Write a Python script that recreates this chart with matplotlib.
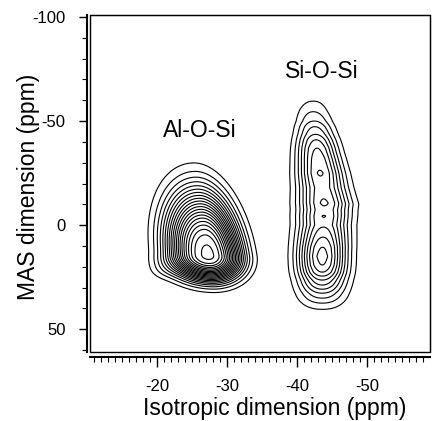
import numpy as np
import matplotlib.pyplot as plt
from matplotlib.patches import Rectangle

plt.rcParams['font.family'] = ['Liberation Sans', 'DejaVu Sans']
plt.rcParams['axes.unicode_minus'] = False

# contour levels (arbitrary intensity units)
level_base = 0.05
level_step = 0.047
n_levels = 21

# Al-O-Si peak (ppm)
# x0, y0, sigma left/right (iso), sigma up/down (MAS), amplitude, shear, shape power
al_x0 = [-27.3, -20.8]
al_y0 = [14.5, 21.0]
al_sl = [4.2, 1.5]
al_sr = [3.5, 1.5]
al_su = [22.3, 4.5]
al_sd = [9.0, 3.5]
al_amp = [1.0, 0.05]
al_shear = [-0.046, 0.0]
al_pow = [2.6, 2.0]

# Si-O-Si ridge: height along the MAS axis, in contour steps
si_ridge_y = [-66, -59.6, -54.5, -50, -47.3, -43.6, -41, -37, -32, -25, -18, -10.6, -7.5,
              -4.3, 0, 5.8, 10.6, 15, 19.2, 22.6, 24.5, 26.4, 28.8, 30.8, 32.7, 35.1,
              37.5, 40.5, 45]
si_ridge_k = [-2, 0, 1, 2, 3, 4, 5, 6, 6.6, 7.1, 6.6, 7.15, 6.8,
              7.03, 6.8, 8.0, 9.0, 9.4, 9.0, 8.0, 7, 6, 5, 4, 3, 2,
              1, 0, -2]
# ridge width and centre along the MAS axis
si_width_y = [-62, -55, -49, -35, -10, 14, 30, 38, 42]
si_width = [1.7, 1.8, 1.85, 2.1, 2.6, 2.46, 2.45, 2.55, 2.4]
si_centre_y = [-55, -35, -10, 14, 40]
si_centre_x = [-42.3, -42.9, -43.9, -43.6, -43.6]
si_pow = 2.2

labels = ['Al-O-Si', 'Si-O-Si']
label_x = [-26.1, -43.6]
label_y = [-45.7, -73.6]


def blob(X, Y, x0, y0, sl, sr, su, sd, amp, shear, pw):
    dx = X - (x0 + shear * (Y - y0))
    dy = Y - y0
    sx = np.where(dx > 0, sl, sr)
    sy = np.where(dy < 0, su, sd)
    q = (dx / sx) ** 2 + (dy / sy) ** 2
    return amp * np.exp(-0.5 * q ** (pw / 2))


xs = np.linspace(-60, -10, 450)
ys = np.linspace(-101, 62, 650)
X, Y = np.meshgrid(xs, ys)
Z = np.zeros_like(X)
for p in zip(al_x0, al_y0, al_sl, al_sr, al_su, al_sd, al_amp, al_shear, al_pow):
    Z += blob(X, Y, *p)

ridge = np.clip(level_base + level_step * np.interp(ys, si_ridge_y, si_ridge_k), 0, None)
width = np.interp(ys, si_width_y, si_width)
cx = np.interp(ys, si_centre_y, si_centre_x)
dx = (X - cx[:, None]) / width[:, None]
Z += ridge[:, None] * np.exp(-0.5 * np.abs(dx) ** si_pow)

levels = level_base + level_step * np.arange(n_levels)

fig = plt.figure(figsize=(4.32, 4.21), dpi=100)
ax = fig.add_axes([90 / 432, 69 / 421, 340 / 432, 337 / 421])
ax.contour(X, Y, Z, levels=levels, colors='black', linewidths=0.8)

for t, lx, ly in zip(labels, label_x, label_y):
    ax.text(lx, ly, t, fontsize=16.5, ha='center', va='center')

ax.set_xlim(-10.4, -59)
ax.set_ylim(61, -101)
ax.set_xticks([-20, -30, -40, -50])
ax.set_xticks(np.arange(-11, -59, -1), minor=True)
ax.set_yticks([-100, -50, 0, 50])
ax.set_yticks(np.arange(-100, 61, 10), minor=True)

ax.spines['left'].set_position(('outward', 2.5))
ax.spines['bottom'].set_position(('outward', 3.5))
ax.spines['left'].set_linewidth(1.5)
ax.spines['bottom'].set_linewidth(1.5)
ax.add_patch(Rectangle((0, 0), 1, 1, transform=ax.transAxes, fill=False,
                       lw=1.0, clip_on=False))

ax.tick_params(which='major', direction='out', length=6, width=1, labelsize=12, pad=9)
ax.tick_params(which='minor', direction='out', length=3.5, width=0.8)
ax.tick_params(axis='x', which='major', length=7)

ax.set_xlabel('Isotropic dimension (ppm)', fontsize=16.5)
ax.set_ylabel('MAS dimension (ppm)', fontsize=16.5)
ax.xaxis.set_label_coords(0.544, -0.135)
ax.yaxis.set_label_coords(-0.147, 0.49)

plt.savefig('out.png', dpi=100)
